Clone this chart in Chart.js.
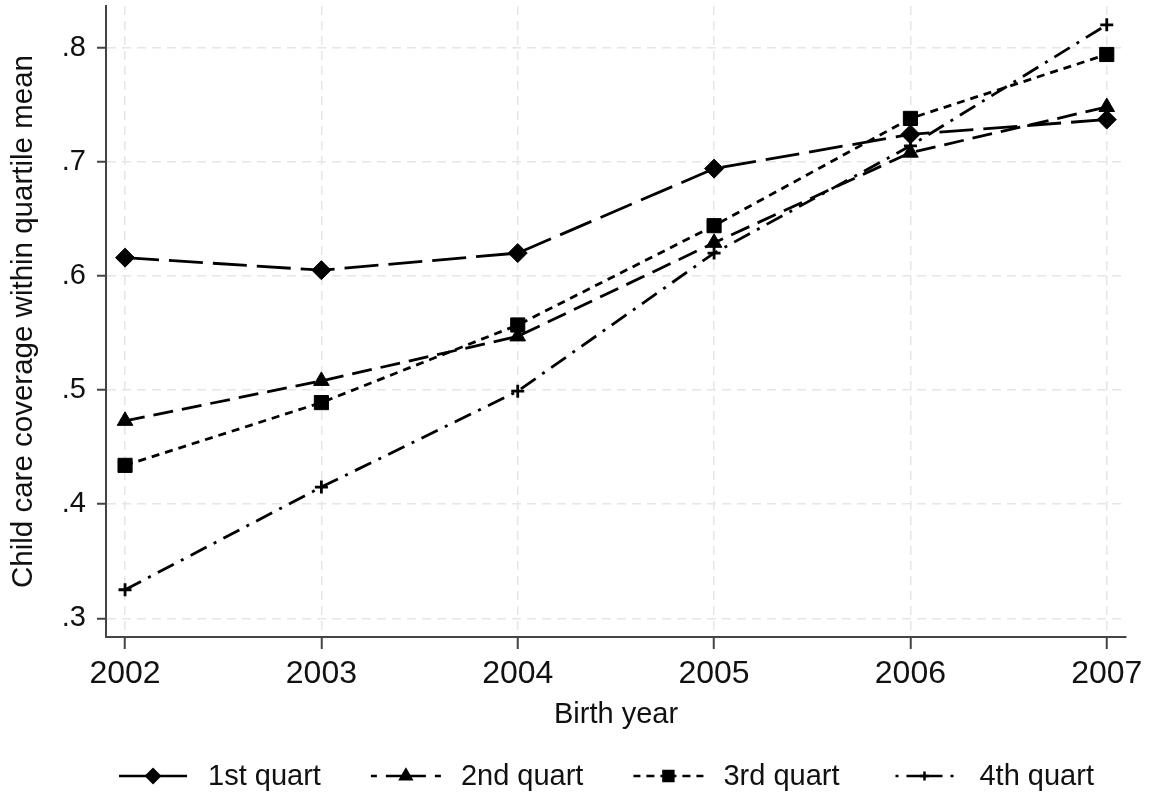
<!DOCTYPE html>
<html>
<head>
<meta charset="utf-8">
<script src="https://cdn.jsdelivr.net/npm/chart.js@4/dist/chart.umd.min.js"></script>
<style>
  html, body { margin: 0; padding: 0; background: #fff; }
  #wrap { width: 1149px; height: 795px; }
</style>
</head>
<body>
<div id="wrap"><canvas id="chart" width="1149" height="795"></canvas></div>
<script>
// values
const years = [2002, 2003, 2004, 2005, 2006, 2007];
const quart1 = [0.616, 0.605, 0.620, 0.694, 0.724, 0.737];
const quart2 = [0.473, 0.508, 0.547, 0.629, 0.708, 0.748];
const quart3 = [0.434, 0.489, 0.557, 0.644, 0.738, 0.794];
const quart4 = [0.325, 0.415, 0.499, 0.620, 0.714, 0.820];
const yTicks = [0.3, 0.4, 0.5, 0.6, 0.7, 0.8];
const seriesNames = ['1st quart', '2nd quart', '3rd quart', '4th quart'];

const FONT = "'Liberation Sans', Arial, sans-serif";
const INK = '#111';
const AXIS = '#444';
const GRID = '#e6e6e6';

function toPoints(vals) {
    return years.map((x, i) => ({ x: x, y: vals[i] }));
}

const styles = [
    { pointStyle: 'rectRot', radius: 9.5, dash: [34, 10] },
    { pointStyle: 'triangle', radius: 9, dash: [20, 9] },
    { pointStyle: 'rect', radius: 10, dash: [8, 6] },
    { pointStyle: 'cross', radius: 6.5, dash: [18, 8, 3, 8] }
];

const datasets = [quart1, quart2, quart3, quart4].map((vals, i) => ({
    label: seriesNames[i],
    data: toPoints(vals),
    borderColor: '#000',
    backgroundColor: '#000',
    borderWidth: 2.8,
    borderDash: styles[i].dash,
    pointStyle: styles[i].pointStyle,
    pointRadius: styles[i].radius,
    pointBackgroundColor: '#000',
    pointBorderColor: '#000',
    pointBorderWidth: styles[i].pointStyle === 'cross' ? 2.8 : 1,
    tension: 0,
    fill: false,
    order: 4 - i
}));

// legend drawn by hand so each sample shows line + marker like the original
const lineLegend = {
    id: 'lineLegend',
    afterDraw(chart) {
        const ctx = chart.ctx;
        const area = chart.chartArea;
        const sampleW = 70, gapText = 20, gapItem = 50;
        ctx.save();
        ctx.font = '29px ' + FONT;
        const widths = seriesNames.map(t => ctx.measureText(t).width);
        let total = widths.reduce((a, b) => a + b, 0) + 4 * (sampleW + gapText) + 3 * gapItem;
        let x = (area.left + area.right) / 2 - 10 - total / 2;
        const y = 776;
        seriesNames.forEach((name, i) => {
            const st = styles[i];
            const cx = x + sampleW / 2;
            ctx.strokeStyle = '#000';
            ctx.lineWidth = 2.5;
            ctx.setLineDash(st.dash);
            ctx.beginPath();
            ctx.moveTo(cx, y); ctx.lineTo(x, y);
            ctx.moveTo(cx, y); ctx.lineTo(x + sampleW, y);
            ctx.stroke();
            ctx.setLineDash([]);
            ctx.fillStyle = '#000';
            Chart.helpers.drawPoint(ctx, {
                pointStyle: st.pointStyle,
                radius: st.radius * 0.7,
                rotation: 0,
                borderWidth: st.pointStyle === 'cross' ? 2.5 : 1
            }, cx, y);
            ctx.fillStyle = INK;
            ctx.textBaseline = 'middle';
            ctx.textAlign = 'left';
            ctx.fillText(name, x + sampleW + gapText, y + 1);
            x += sampleW + gapText + widths[i] + gapItem;
        });
        ctx.restore();
    }
};

new Chart(document.getElementById('chart'), {
    type: 'line',
    data: { datasets: datasets },
    options: {
        responsive: false,
        animation: false,
        devicePixelRatio: 1,
        layout: { autoPadding: false, padding: { left: 0, right: 23, top: 6, bottom: 63 } },
        plugins: {
            legend: { display: false },
            tooltip: { enabled: false }
        },
        scales: {
            x: {
                type: 'linear',
                min: 2001.903,
                max: 2007.098,
                afterBuildTicks: s => { s.ticks = years.map(v => ({ value: v })); },
                afterFit: s => { s.height = 95; s.paddingLeft = 0; s.paddingRight = 0; },
                ticks: {
                    autoSkip: false,
                    maxRotation: 0,
                    padding: 6,
                    color: INK,
                    font: { family: FONT, size: 32 },
                    callback: v => String(v)
                },
                grid: { color: GRID, lineWidth: 1.5, tickLength: 12, tickColor: AXIS, tickWidth: 2 },
                border: { display: true, color: AXIS, width: 2, dash: [9, 6] },
                title: {
                    display: true,
                    text: 'Birth year',
                    color: INK,
                    font: { family: FONT, size: 29 },
                    padding: { top: 0, bottom: 0 }
                }
            },
            y: {
                min: 0.2836,
                max: 0.8365,
                afterBuildTicks: s => { s.ticks = yTicks.map(v => ({ value: v })); },
                afterFit: s => { s.width = 106; s.paddingTop = 0; s.paddingBottom = 0; },
                ticks: {
                    padding: 11,
                    color: INK,
                    font: { family: FONT, size: 29 },
                    callback: v => v.toFixed(1).replace(/^0/, '')
                },
                grid: { color: GRID, lineWidth: 1.5, tickLength: 9, tickColor: AXIS, tickWidth: 2 },
                border: { display: true, color: AXIS, width: 2, dash: [9, 6] },
                title: {
                    display: true,
                    text: 'Child care coverage within quartile mean',
                    color: INK,
                    font: { family: FONT, size: 29.5 },
                    padding: { top: 6, bottom: 0 }
                }
            }
        }
    },
    plugins: [lineLegend]
});
</script>
</body>
</html>
